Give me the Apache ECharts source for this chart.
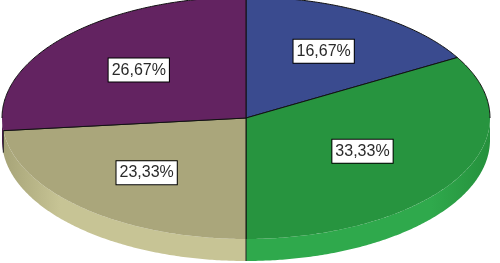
<!DOCTYPE html>
<html><head><meta charset="utf-8">
<script src="https://cdn.jsdelivr.net/npm/echarts@6/dist/echarts.min.js"></script>
<style>html,body{margin:0;padding:0;background:#fff}#c{width:500px;height:263px}</style>
</head><body><div id="c"></div>
<script>
const categories = ['Categoría 1', 'Categoría 2', 'Categoría 3', 'Categoría 4'];
const counts = [5, 10, 7, 8];
const topColors = ['#3a4b8f', '#27943f', '#aaa67b', '#632361'];
const sideEdgeColors = ['#31407a', '#25903c', '#a6a377', '#4e1b4d'];
const sideMidColors = ['#31407a', '#2fa94c', '#c7c495', '#4e1b4d'];

const total = counts.reduce((a, b) => a + b, 0);
const startFrac = [];
{ let acc = 0; counts.forEach(v => { startFrac.push(acc / total); acc += v; }); }

const CX = 246, CY = 118, RX = 244, RY = 121, DEPTH = 22;
const FRONT_A = Math.PI / 2, FRONT_B = 3 * Math.PI / 2;
function pt(th, dy) { return [CX + RX * Math.sin(th), CY - RY * Math.cos(th) + (dy || 0)]; }
function arc(a, b, dy) {
  const pts = [], n = Math.max(2, Math.ceil((b - a) / 0.01));
  for (let i = 0; i <= n; i++) pts.push(pt(a + (b - a) * i / n, dy));
  return pts;
}

const chart = echarts.init(document.getElementById('c'), null, { renderer: 'canvas' });
chart.setOption({
  animation: false,
  series: [{
    type: 'custom',
    coordinateSystem: 'none',
    data: counts.map((v, i) => ({ name: categories[i], value: v })),
    renderItem: function (params, api) {
      const i = params.dataIndex;
      const v = api.value(0);
      const a = startFrac[i] * 2 * Math.PI;
      const b = a + v / total * 2 * Math.PI;
      const children = [];
      // side wall (front half only)
      const wa = Math.max(a, FRONT_A), wb = Math.min(b, FRONT_B);
      if (wb > wa) {
        const top = arc(wa, wb, 0), bot = arc(wa, wb, DEPTH).reverse();
        const grad = new echarts.graphic.LinearGradient(CX - RX, 0, CX + RX, 0, [
          { offset: 0, color: sideEdgeColors[i] },
          { offset: 0.12, color: sideMidColors[i] },
          { offset: 0.88, color: sideMidColors[i] },
          { offset: 1, color: sideEdgeColors[i] }
        ], true);
        children.push({
          type: 'polygon',
          shape: { points: top.concat(bot) },
          style: { fill: grad }
        });
        if (a > FRONT_A && a < FRONT_B) {
          children.push({ type: 'line', shape: { x1: pt(a)[0], y1: pt(a)[1], x2: pt(a)[0], y2: pt(a, DEPTH)[1] },
            style: { stroke: '#222', lineWidth: 1 } });
        }
      }
      // top face fill
      children.push({
        type: 'polygon',
        shape: { points: [[CX, CY]].concat(arc(a, b, 0)) },
        style: { fill: topColors[i] }
      });
      // radial edges
      [a, b].forEach(t => {
        const p = pt(t);
        children.push({ type: 'line', shape: { x1: CX, y1: CY, x2: p[0], y2: p[1] },
          style: { stroke: '#111', lineWidth: 1 } });
      });
      // back outline arcs
      const backParts = [[a, Math.min(b, FRONT_A)], [Math.max(a, FRONT_B), b]];
      backParts.forEach(([s, e]) => {
        if (e > s) children.push({ type: 'polyline', shape: { points: arc(s, e, 0) },
          style: { stroke: '#111', lineWidth: 1, fill: null } });
      });
      // label at sector centroid
      const half = (b - a) / 2, m = (a + b) / 2;
      const f = 2 * Math.sin(half) / (3 * half);
      const lx = CX + RX * f * Math.sin(m), ly = CY - RY * f * Math.cos(m);
      const pct = (v / total * 100).toFixed(2).replace('.', ',') + '%';
      children.push({
        type: 'text',
        x: lx, y: ly,
        style: {
          text: pct,
          align: 'center', verticalAlign: 'middle',
          fill: '#2a2a2a',
          font: '16px "Liberation Sans", Arial, sans-serif',
          backgroundColor: '#fff',
          borderColor: '#000', borderWidth: 1,
          padding: [4, 3, 3, 3]
        }
      });
      return { type: 'group', children: children };
    }
  }]
});
</script></body></html>
